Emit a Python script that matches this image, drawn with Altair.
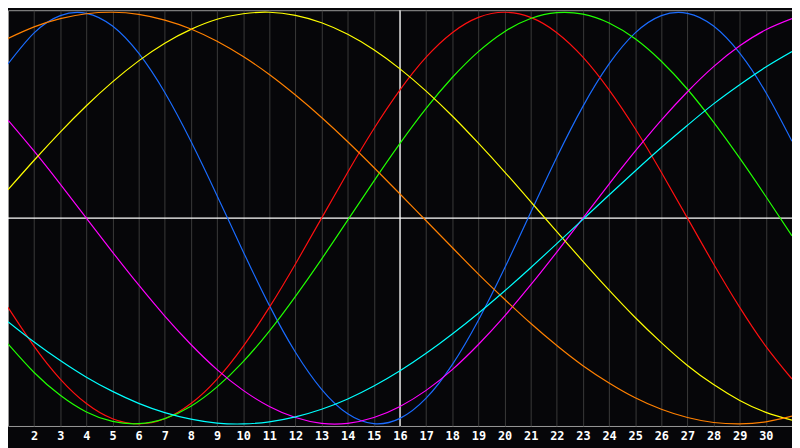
import altair as alt
import pandas as pd

days = list(range(1, 32))

series_names = ["Physical", "Emotional", "Intellectual", "Intuitive",
                "Aesthetic", "Awareness", "Spiritual"]
series_colors = ["#1a6cff", "#ff1010", "#20ff00", "#ff00ff",
                 "#ffff00", "#ff8000", "#00ffff"]

physical = [0.749, 0.900, 0.984, 0.995, 0.933, 0.801, 0.610, 0.373, 0.109, -0.163,
            -0.424, -0.652, -0.832, -0.951, -0.999, -0.973, -0.875, -0.712, -0.496, -0.244,
            0.027, 0.296, 0.543, 0.749, 0.900, 0.984, 0.995, 0.933, 0.801, 0.610, 0.373]
emotional = [-0.434, -0.623, -0.782, -0.901, -0.975, -1.000, -0.975, -0.901, -0.782, -0.623,
             -0.434, -0.223, 0.000, 0.223, 0.434, 0.623, 0.782, 0.901, 0.975, 1.000,
             0.975, 0.901, 0.782, 0.623, 0.434, 0.223, 0.000, -0.223, -0.434, -0.623, -0.782]
intellectual = [-0.611, -0.750, -0.861, -0.942, -0.988, -0.999, -0.974, -0.914, -0.820, -0.697,
                -0.549, -0.380, -0.199, -0.010, 0.180, 0.363, 0.533, 0.683, 0.809, 0.906,
                0.970, 0.998, 0.991, 0.948, 0.871, 0.762, 0.626, 0.466, 0.291, 0.105, -0.086]
intuitive = [0.476, 0.325, 0.165, 0.000, -0.165, -0.325, -0.476, -0.614, -0.736, -0.837,
             -0.915, -0.969, -0.997, -0.997, -0.969, -0.915, -0.837, -0.736, -0.614, -0.476,
             -0.325, -0.165, 0.000, 0.165, 0.325, 0.476, 0.614, 0.736, 0.837, 0.915, 0.969]
aesthetic = [0.138, 0.281, 0.418, 0.546, 0.662, 0.764, 0.850, 0.917, 0.966, 0.993,
             1.000, 0.985, 0.949, 0.893, 0.818, 0.725, 0.617, 0.496, 0.364, 0.225,
             0.080, -0.066, -0.210, -0.350, -0.483, -0.605, -0.716, -0.809, -0.886, -0.944, -0.982]
awareness = [0.873, 0.929, 0.969, 0.993, 1.000, 0.990, 0.962, 0.919, 0.859, 0.785,
             0.698, 0.598, 0.489, 0.371, 0.246, 0.117, -0.013, -0.143, -0.272, -0.394,
             -0.511, -0.619, -0.717, -0.801, -0.873, -0.929, -0.969, -0.993, -1.000, -0.990, -0.962]
spiritual = [-0.503, -0.602, -0.692, -0.773, -0.842, -0.900, -0.945, -0.977, -0.996, -1.000,
             -0.990, -0.966, -0.929, -0.879, -0.816, -0.742, -0.657, -0.563, -0.462, -0.354,
             -0.241, -0.124, -0.006, 0.112, 0.229, 0.343, 0.451, 0.555, 0.648, 0.734, 0.809]

tick_days = list(range(2, 31))
today = [16]
zero_level = [0]

all_series = [physical, emotional, intellectual, intuitive, aesthetic, awareness, spiritual]
rows = []
for name, vals in zip(series_names, all_series):
    for d, v in zip(days, vals):
        rows.append({"day": d, "value": v, "cycle": name})
df = pd.DataFrame(rows)

W, H = 792, 420

x_scale = alt.Scale(domain=[1, 31], nice=False, zero=False)
y_scale = alt.Scale(domain=[-1.01, 1.01], nice=False, zero=False)

x_axis = alt.Axis(values=tick_days, grid=True, gridColor="#3a3a3a", gridWidth=1,
                  ticks=False, domain=False, labelColor="#ffffff",
                  labelFont="DejaVu Sans Mono", labelFontWeight="bold", labelFontSize=12,
                  labelPadding=5, title=None, labelFlush=False, labelOverlap=False,
                  labelBound=False, format="d")

grid_layer = alt.Chart(pd.DataFrame({"day": tick_days})).mark_rule(opacity=0).encode(
    x=alt.X("day:Q", scale=x_scale, axis=x_axis)
)

vline = alt.Chart(pd.DataFrame({"day": today})).mark_rule(color="#ffffff", strokeWidth=1.3).encode(
    x=alt.X("day:Q", scale=x_scale, axis=x_axis)
)
hline = alt.Chart(pd.DataFrame({"value": zero_level})).mark_rule(color="#ffffff", strokeWidth=1.3).encode(
    y=alt.Y("value:Q", scale=y_scale, axis=None)
)

lines = alt.Chart(df).mark_line(strokeWidth=1.2, interpolate="natural").encode(
    x=alt.X("day:Q", scale=x_scale, axis=x_axis),
    y=alt.Y("value:Q", scale=y_scale, axis=None),
    color=alt.Color("cycle:N", scale=alt.Scale(domain=series_names, range=series_colors), legend=None),
    detail="cycle:N",
)

chart = alt.layer(grid_layer, vline, hline, lines).properties(
    width=W, height=H,
    background="#060609",
    padding={"left": 0, "top": 0, "right": 0, "bottom": 20},
    autosize=alt.AutoSizeParams(type="none"),
).configure_view(
    fill="#060609", stroke="#9a9a9a", strokeWidth=1
).configure_axis(
    labelOverlap=False
)

chart.save("out.html", embed_options={"renderer": "svg", "actions": False})
